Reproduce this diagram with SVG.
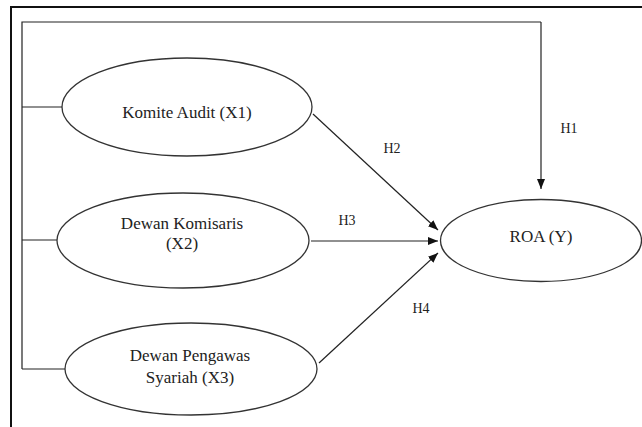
<svg xmlns="http://www.w3.org/2000/svg" width="642" height="427" viewBox="0 0 642 427">
<defs>
<marker id="arr" markerUnits="userSpaceOnUse" markerWidth="11" markerHeight="9" refX="10" refY="4" orient="auto">
<path d="M0,0 L10,4 L0,8 z" fill="#111"/>
</marker>
<style>
.node ellipse{fill:#fff;stroke:#333;stroke-width:1.3}
.t{font-family:"Liberation Serif","Times New Roman",serif;font-size:17px;fill:#222;text-anchor:middle}
.h{font-family:"Liberation Serif","Times New Roman",serif;font-size:14px;fill:#222;text-anchor:middle}
.ln{stroke:#222;stroke-width:1.2;fill:none}
.ar{stroke:#222;stroke-width:1.2;fill:none;marker-end:url(#arr)}
</style>
</defs>
<rect width="642" height="427" fill="#fff"/>
<g id="frame">
<path d="M11,427 L11,7 L642,7" fill="none" stroke="#111" stroke-width="2"/>
</g>
<g id="connectors">
<path class="ln" d="M22,369 L22,22 L541,22"/>
<path class="ar" d="M541,22 L541,189"/>
<path class="ln" d="M22,107 L62,107"/>
<path class="ln" d="M22,240 L57,240"/>
<path class="ln" d="M22,369 L65,369"/>
<path class="ar" d="M313,114 L438,230"/>
<path class="ar" d="M311,241 L438,241"/>
<path class="ar" d="M319,363 L438,253"/>
<text class="h" x="569" y="133">H1</text>
<text class="h" x="392" y="153">H2</text>
<text class="h" x="347" y="225">H3</text>
<text class="h" x="421" y="313">H4</text>
</g>
<g id="x1" class="node">
<ellipse cx="187" cy="107" rx="125" ry="49"/>
<text class="t" x="187" y="118">Komite Audit (X1)</text>
</g>
<g id="x2" class="node">
<ellipse cx="183" cy="240.5" rx="126" ry="47.5"/>
<text class="t" x="182" y="229">Dewan Komisaris</text>
<text class="t" x="182" y="249">(X2)</text>
</g>
<g id="x3" class="node">
<ellipse cx="191" cy="369" rx="126" ry="46"/>
<text class="t" x="190" y="361">Dewan Pengawas</text>
<text class="t" x="190" y="383">Syariah (X3)</text>
</g>
<g id="y" class="node">
<ellipse cx="541" cy="240.5" rx="100.5" ry="41"/>
<text class="t" x="541" y="242">ROA (Y)</text>
</g>
</svg>
